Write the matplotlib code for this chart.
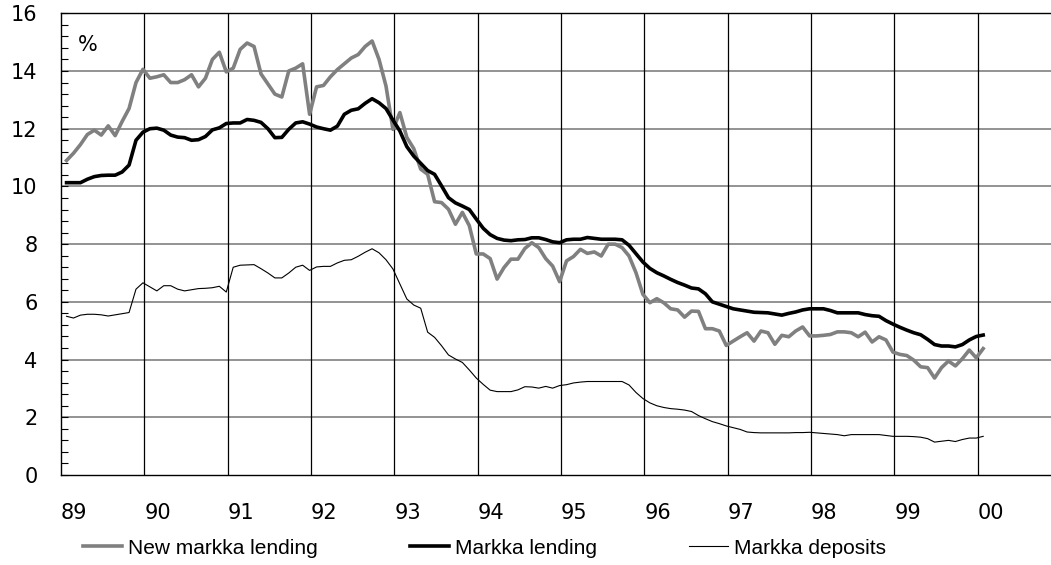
import numpy as np
import matplotlib
matplotlib.use('Agg')
import matplotlib.pyplot as plt
from matplotlib.ticker import MultipleLocator, FixedLocator

# Monthly series, Jan 1989 .. Jan 2000
new_lending = [
    10.9, 11.15, 11.45, 11.8, 11.95, 11.78, 12.1, 11.76, 12.25, 12.7, 13.6, 14.06,
    13.75, 13.8, 13.87, 13.6, 13.6, 13.7, 13.87, 13.45, 13.75, 14.4, 14.65, 13.97,
    14.1, 14.75, 14.97, 14.85, 13.9, 13.55, 13.2, 13.1, 14.0, 14.1, 14.25, 12.5,
    13.45, 13.5, 13.8, 14.05, 14.25, 14.45, 14.57, 14.85, 15.04, 14.4, 13.48, 11.98,
    12.56, 11.7, 11.31, 10.6, 10.42, 9.47, 9.44, 9.21, 8.69, 9.1, 8.64, 7.66,
    7.66, 7.5, 6.79, 7.19, 7.48, 7.48, 7.85, 8.05, 7.88, 7.5, 7.24, 6.7,
    7.42, 7.57, 7.82, 7.68, 7.73, 7.59, 8.0, 8.0, 7.88, 7.59, 7.01, 6.26,
    5.97, 6.11, 5.97, 5.76, 5.72, 5.47, 5.68, 5.67, 5.07, 5.07, 4.99, 4.49,
    4.64, 4.79, 4.93, 4.64, 4.99, 4.93, 4.53, 4.84, 4.79, 4.99, 5.13, 4.82,
    4.82, 4.84, 4.87, 4.96, 4.96, 4.93, 4.79, 4.95, 4.61, 4.79, 4.68, 4.26,
    4.18, 4.14, 3.98, 3.75, 3.72, 3.36, 3.72, 3.95, 3.78, 4.03, 4.33, 4.06,
    4.38,
]

lending = [
    10.13, 10.13, 10.13, 10.25, 10.34, 10.38, 10.39, 10.39, 10.5, 10.74, 11.6, 11.88,
    12.0, 12.02, 11.95, 11.78, 11.71, 11.69, 11.6, 11.62, 11.73, 11.96, 12.03, 12.18,
    12.2, 12.2, 12.32, 12.29, 12.22, 12.0, 11.69, 11.7, 11.98, 12.2, 12.24, 12.16,
    12.06, 12.0, 11.95, 12.09, 12.5, 12.64, 12.69, 12.88, 13.04, 12.9, 12.7, 12.3,
    11.92, 11.38, 11.05, 10.8, 10.55, 10.42, 10.02, 9.61, 9.43, 9.32, 9.2, 8.87,
    8.55, 8.33, 8.2, 8.14, 8.12, 8.15, 8.16, 8.22, 8.22, 8.16, 8.08, 8.05,
    8.15, 8.17, 8.17, 8.23, 8.2, 8.17, 8.17, 8.17, 8.15, 7.96, 7.67, 7.38,
    7.16, 7.01, 6.9, 6.78, 6.67, 6.58, 6.48, 6.45, 6.28, 6.0, 5.92, 5.84,
    5.76, 5.72, 5.68, 5.64, 5.63, 5.62, 5.58, 5.54, 5.6, 5.65, 5.72, 5.76,
    5.76, 5.76, 5.7, 5.62, 5.62, 5.62, 5.62, 5.56, 5.52, 5.5, 5.35, 5.23,
    5.12, 5.02, 4.93, 4.86, 4.7, 4.52, 4.47, 4.47, 4.44, 4.52, 4.68, 4.8,
    4.85,
]

deposits = [
    5.5, 5.44, 5.54, 5.57, 5.57, 5.55, 5.51, 5.55, 5.59, 5.63, 6.44, 6.66,
    6.52, 6.38, 6.56, 6.56, 6.44, 6.38, 6.42, 6.46, 6.47, 6.49, 6.54, 6.34,
    7.2, 7.27, 7.28, 7.29, 7.15, 7.0, 6.83, 6.83, 7.0, 7.2, 7.27, 7.09,
    7.21, 7.23, 7.23, 7.35, 7.44, 7.46, 7.58, 7.72, 7.84, 7.7, 7.46, 7.14,
    6.62, 6.1, 5.89, 5.78, 4.95, 4.77, 4.48, 4.16, 4.02, 3.9, 3.64, 3.36,
    3.14, 2.94, 2.89, 2.89, 2.89, 2.95, 3.06, 3.05, 3.01, 3.07, 3.01, 3.1,
    3.13, 3.19, 3.22, 3.24, 3.24, 3.24, 3.24, 3.24, 3.24, 3.12, 2.86, 2.65,
    2.5, 2.4, 2.34, 2.3, 2.28, 2.25, 2.2, 2.06, 1.95, 1.85, 1.78, 1.7,
    1.64, 1.58, 1.49, 1.47, 1.46, 1.46, 1.46, 1.46, 1.46, 1.47, 1.47, 1.48,
    1.46, 1.44, 1.42, 1.4, 1.36, 1.4, 1.4, 1.4, 1.4, 1.4, 1.37, 1.34,
    1.34, 1.34, 1.33, 1.31, 1.26, 1.14, 1.17, 1.2, 1.16, 1.23, 1.28, 1.28,
    1.34,
]

years = list(range(1989, 2001))
year_labels = ['89', '90', '91', '92', '93', '94', '95', '96', '97', '98', '99', '00']

# month positions (points sit a bit right of the year gridline)
x = 1989 + (np.arange(len(new_lending)) + 0.8) / 12

fig = plt.figure(figsize=(10.51, 5.65), dpi=100)
ax = fig.add_axes([61 / 1051, 90 / 565, 990 / 1051, 461.7 / 565])

ax.plot(x, new_lending, color='#808080', lw=2.6, label='New markka lending', zorder=3)
ax.plot(x, lending, color='black', lw=2.6, label='Markka lending', zorder=4)
ax.plot(x, deposits, color='black', lw=0.8, label='Markka deposits', zorder=3)

ax.set_xlim(1989, 1989 + 990 / 83.33)
ax.set_ylim(0, 16)

# gridlines
for yv in range(2, 16, 2):
    ax.axhline(yv, color='#808080', lw=1.2, zorder=1)
for yr in years[1:]:
    ax.axvline(yr, color='black', lw=0.9, zorder=1)

ax.yaxis.set_major_locator(MultipleLocator(2))
ax.yaxis.set_minor_locator(MultipleLocator(0.4))
ax.tick_params(axis='y', which='both', direction='in', length=5, width=0.8,
               pad=17, labelsize=15)
ax.xaxis.set_major_locator(FixedLocator(years))
ax.set_xticklabels(year_labels, ha='left')
ax.tick_params(axis='x', length=0, pad=20, labelsize=15)
for lab in ax.get_xticklabels() + ax.get_yticklabels():
    lab.set_family('DejaVu Sans')

for s in ['left', 'bottom', 'top']:
    ax.spines[s].set_color('black')
    ax.spines[s].set_linewidth(1.0)
ax.spines['right'].set_visible(False)

ax.text(0.017, 0.931, '%', transform=ax.transAxes, fontsize=15,
        family='DejaVu Sans', va='center', ha='left')

fig.legend(loc='center left', bbox_to_anchor=(83 / 1051, 1 - 548 / 565), ncol=3,
           frameon=False, prop={'family': 'Liberation Sans', 'size': 15},
           handlelength=1.88, handletextpad=0.29, columnspacing=4.4,
           borderaxespad=0, borderpad=0)

fig.savefig('out.png', dpi=100)
